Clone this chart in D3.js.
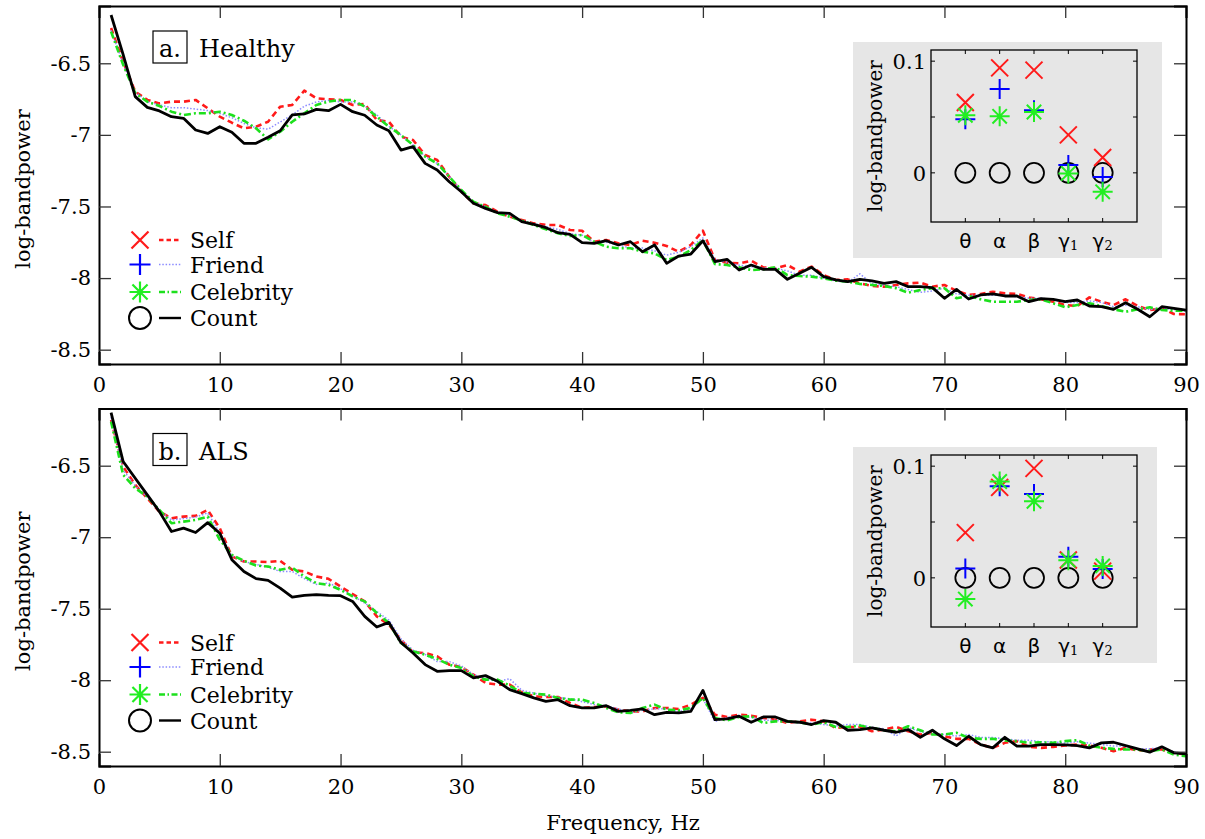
<!DOCTYPE html>
<html>
<head>
<meta charset="utf-8">
<script src="https://cdn.jsdelivr.net/npm/d3@7"></script>
<style>
  html, body { margin: 0; padding: 0; background: #fff; }
  svg { display: block; }
  text { fill: #000; }
</style>
</head>
<body>
<svg id="chart" width="1205" height="839"></svg>
<script>
// ---- spectra: log-bandpower per 1 Hz bin, 1..90 Hz ----
const freq = d3.range(1, 91);

const healthySelf = [
  -6.254,-6.49,-6.698,-6.756,-6.78,-6.768,-6.768,-6.756,-6.814,-6.873,
  -6.915,-6.954,-6.943,-6.908,-6.803,-6.791,-6.691,-6.745,-6.752,-6.756,
  -6.791,-6.784,-6.896,-6.908,-7.013,-7.036,-7.141,-7.175,-7.292,-7.397,
  -7.478,-7.49,-7.537,-7.571,-7.594,-7.618,-7.629,-7.629,-7.664,-7.669,
  -7.746,-7.734,-7.757,-7.769,-7.739,-7.753,-7.776,-7.816,-7.769,-7.669,
  -7.874,-7.892,-7.897,-7.879,-7.925,-7.932,-7.909,-7.955,-7.92,-7.979,
  -8.013,-8.009,-8.037,-8.055,-8.06,-8.048,-8.037,-8.032,-8.06,-8.048,
  -8.088,-8.118,-8.111,-8.095,-8.107,-8.111,-8.135,-8.148,-8.165,-8.188,
  -8.195,-8.135,-8.165,-8.188,-8.148,-8.195,-8.223,-8.211,-8.251,-8.253];
const healthyFriend = [
  -6.27,-6.5,-6.70,-6.77,-6.79,-6.81,-6.81,-6.82,-6.83,-6.85,
  -6.88,-6.92,-6.95,-6.96,-6.91,-6.86,-6.80,-6.77,-6.76,-6.77,
  -6.77,-6.80,-6.86,-6.94,-7.0,-7.07,-7.15,-7.2,-7.29,-7.39,
  -7.47,-7.5,-7.54,-7.56,-7.6,-7.62,-7.64,-7.66,-7.69,-7.7,
  -7.75,-7.75,-7.77,-7.79,-7.79,-7.81,-7.84,-7.82,-7.78,-7.72,
  -7.87,-7.89,-7.91,-7.92,-7.93,-7.93,-7.95,-7.98,-7.98,-8.0,
  -8.02,-8.03,-7.97,-8.04,-8.05,-8.06,-8.08,-8.1,-8.09,-8.07,
  -8.11,-8.12,-8.12,-8.12,-8.12,-8.13,-8.14,-8.14,-8.15,-8.17,
  -8.17,-8.16,-8.17,-8.2,-8.19,-8.2,-8.22,-8.21,-8.22,-8.23];
const healthyCelebrity = [
  -6.279,-6.51,-6.708,-6.768,-6.798,-6.838,-6.861,-6.849,-6.849,-6.838,
  -6.861,-6.901,-6.954,-7.031,-6.978,-6.908,-6.849,-6.791,-6.768,-6.756,
  -6.756,-6.803,-6.873,-6.943,-7.001,-7.071,-7.152,-7.199,-7.292,-7.385,
  -7.467,-7.502,-7.548,-7.571,-7.599,-7.629,-7.659,-7.687,-7.706,-7.699,
  -7.746,-7.781,-7.792,-7.792,-7.816,-7.827,-7.874,-7.851,-7.804,-7.734,
  -7.902,-7.909,-7.925,-7.944,-7.939,-7.925,-7.979,-7.986,-7.99,-8.002,
  -8.018,-8.025,-8.041,-8.048,-8.055,-8.071,-8.102,-8.083,-8.071,-8.071,
  -8.141,-8.125,-8.148,-8.165,-8.165,-8.165,-8.153,-8.148,-8.176,-8.204,
  -8.188,-8.176,-8.195,-8.218,-8.235,-8.218,-8.204,-8.223,-8.228,-8.228];
const healthyCount = [
  -6.163,-6.44,-6.733,-6.808,-6.833,-6.873,-6.884,-6.966,-6.99,-6.943,
  -6.982,-7.059,-7.059,-7.017,-6.971,-6.861,-6.854,-6.822,-6.831,-6.787,
  -6.838,-6.863,-6.931,-6.971,-7.106,-7.082,-7.199,-7.245,-7.327,-7.397,
  -7.478,-7.513,-7.543,-7.548,-7.606,-7.625,-7.648,-7.683,-7.695,-7.753,
  -7.757,-7.739,-7.769,-7.746,-7.816,-7.769,-7.897,-7.846,-7.832,-7.739,
  -7.885,-7.869,-7.944,-7.909,-7.939,-7.939,-8.009,-7.967,-7.925,-7.99,
  -8.013,-8.025,-8.009,-8.02,-8.037,-8.025,-8.06,-8.06,-8.067,-8.141,
  -8.079,-8.146,-8.118,-8.111,-8.125,-8.125,-8.165,-8.144,-8.148,-8.165,
  -8.153,-8.195,-8.2,-8.218,-8.172,-8.218,-8.27,-8.2,-8.211,-8.223];

const alsSelf = [
  -6.18,-6.506,-6.634,-6.728,-6.821,-6.867,-6.856,-6.851,-6.809,-6.937,
  -7.135,-7.17,-7.17,-7.174,-7.165,-7.228,-7.24,-7.275,-7.291,-7.345,
  -7.398,-7.449,-7.554,-7.612,-7.717,-7.805,-7.81,-7.833,-7.891,-7.907,
  -7.961,-8.019,-8.031,-8.031,-8.085,-8.113,-8.117,-8.117,-8.159,-8.194,
  -8.187,-8.183,-8.206,-8.218,-8.218,-8.194,-8.194,-8.201,-8.171,-8.124,
  -8.241,-8.257,-8.241,-8.248,-8.264,-8.276,-8.299,-8.288,-8.276,-8.288,
  -8.334,-8.327,-8.327,-8.357,-8.345,-8.327,-8.357,-8.38,-8.368,-8.392,
  -8.41,-8.41,-8.45,-8.473,-8.438,-8.426,-8.466,-8.473,-8.466,-8.457,
  -8.45,-8.457,-8.473,-8.496,-8.473,-8.492,-8.485,-8.485,-8.508,-8.52];
const alsFriend = [
  -6.16,-6.53,-6.64,-6.72,-6.81,-6.88,-6.87,-6.86,-6.83,-6.97,
  -7.13,-7.17,-7.19,-7.21,-7.24,-7.24,-7.29,-7.33,-7.32,-7.36,
  -7.41,-7.46,-7.52,-7.58,-7.71,-7.79,-7.82,-7.87,-7.87,-7.9,
  -7.96,-7.99,-8.01,-7.99,-8.07,-8.09,-8.11,-8.12,-8.13,-8.15,
  -8.17,-8.18,-8.2,-8.23,-8.21,-8.2,-8.2,-8.22,-8.2,-8.13,
  -8.29,-8.26,-8.25,-8.26,-8.28,-8.28,-8.29,-8.3,-8.3,-8.31,
  -8.32,-8.31,-8.31,-8.33,-8.34,-8.39,-8.33,-8.36,-8.37,-8.38,
  -8.39,-8.38,-8.4,-8.4,-8.41,-8.42,-8.42,-8.43,-8.43,-8.44,
  -8.43,-8.44,-8.45,-8.46,-8.46,-8.48,-8.48,-8.47,-8.5,-8.52];
const alsCelebrity = [
  -6.192,-6.564,-6.657,-6.716,-6.809,-6.902,-6.891,-6.879,-6.856,-7.018,
  -7.123,-7.165,-7.198,-7.205,-7.228,-7.212,-7.275,-7.321,-7.333,-7.368,
  -7.414,-7.449,-7.53,-7.6,-7.74,-7.798,-7.822,-7.852,-7.891,-7.914,
  -7.973,-7.996,-7.996,-8.038,-8.089,-8.094,-8.101,-8.124,-8.136,-8.136,
  -8.159,-8.194,-8.225,-8.229,-8.194,-8.171,-8.206,-8.211,-8.194,-8.124,
  -8.264,-8.281,-8.257,-8.252,-8.299,-8.288,-8.288,-8.294,-8.31,-8.294,
  -8.327,-8.327,-8.317,-8.334,-8.35,-8.357,-8.322,-8.35,-8.38,-8.38,
  -8.368,-8.403,-8.41,-8.41,-8.422,-8.426,-8.438,-8.434,-8.438,-8.426,
  -8.419,-8.457,-8.473,-8.48,-8.485,-8.485,-8.496,-8.485,-8.52,-8.532];
const alsCount = [
  -6.129,-6.471,-6.588,-6.704,-6.821,-6.96,-6.937,-6.967,-6.898,-6.972,
  -7.158,-7.24,-7.29,-7.302,-7.356,-7.419,-7.407,-7.402,-7.407,-7.409,
  -7.449,-7.554,-7.628,-7.596,-7.736,-7.81,-7.891,-7.938,-7.933,-7.933,
  -7.984,-7.968,-8.008,-8.066,-8.094,-8.124,-8.148,-8.136,-8.178,-8.194,
  -8.194,-8.178,-8.218,-8.211,-8.201,-8.241,-8.225,-8.229,-8.218,-8.071,
  -8.276,-8.271,-8.252,-8.294,-8.257,-8.257,-8.288,-8.294,-8.31,-8.283,
  -8.294,-8.35,-8.345,-8.334,-8.35,-8.364,-8.345,-8.399,-8.35,-8.41,
  -8.457,-8.392,-8.45,-8.473,-8.399,-8.461,-8.461,-8.45,-8.45,-8.452,
  -8.457,-8.473,-8.438,-8.434,-8.457,-8.48,-8.503,-8.466,-8.508,-8.515];

// ---- band summaries (difference to Count) ----
const bands = ["θ", "α", "β", "γ1", "γ2"];
const healthyBandSelf      = [0.063, 0.094, 0.092, 0.034, 0.0137];
const healthyBandFriend    = [0.048, 0.075, 0.056, 0.007, -0.0036];
const healthyBandCelebrity = [0.0515, 0.0506, 0.0545, -0.0005, -0.017];
const healthyBandCount     = [0, 0, 0, 0, 0];
const alsBandSelf          = [0.0405, 0.081, 0.098, 0.016, 0.006];
const alsBandFriend        = [0.0084, 0.082, 0.075, 0.019, 0.008];
const alsBandCelebrity     = [-0.019, 0.0863, 0.0685, 0.0158, 0.0107];
const alsBandCount         = [0, 0, 0, 0, 0];

// ---- axis ticks ----
const xTicks = [0, 10, 20, 30, 40, 50, 60, 70, 80, 90];
const yTicks = [-8.5, -8, -7.5, -7, -6.5];
const insetYTicks = [0, 0.05, 0.1];
const insetYLabels = [0, 0.1];

const conditions = ["Self", "Friend", "Celebrity", "Count"];

// ---- styles ----
const SERIF = "'DejaVu Serif', serif";
const SANS = "'DejaVu Sans', sans-serif";
const lineStyle = {
  Self:      { stroke: "#ff1a1a", width: 2.6, dash: "6,4" },
  Friend:    { stroke: "#8c8cff", width: 1.5, dash: "1.5,1.8" },
  Celebrity: { stroke: "#1de01d", width: 2.6, dash: "7,3,2,3" },
  Count:     { stroke: "#000000", width: 2.8, dash: null }
};
const markerColor = { Self: "#ff1a1a", Friend: "#0000ff", Celebrity: "#22ee22", Count: "#000" };

const panels = [
  { tag: "a.", title: "Healthy", top: 6, bottom: 364, xLabels: true,
    series: { Self: healthySelf, Friend: healthyFriend, Celebrity: healthyCelebrity, Count: healthyCount },
    band: { Self: healthyBandSelf, Friend: healthyBandFriend, Celebrity: healthyBandCelebrity, Count: healthyBandCount },
    inset: { bgX0: 853, bgX1: 1162, bgY0: 42, bgY1: 258, x0: 931, x1: 1137, y0: 50, y1: 222 } },
  { tag: "b.", title: "ALS", top: 408.5, bottom: 766, xLabels: true,
    series: { Self: alsSelf, Friend: alsFriend, Celebrity: alsCelebrity, Count: alsCount },
    band: { Self: alsBandSelf, Friend: alsBandFriend, Celebrity: alsBandCelebrity, Count: alsBandCount },
    inset: { bgX0: 853, bgX1: 1157, bgY0: 447, bgY1: 663, x0: 931, x1: 1137, y0: 455, y1: 627 } }
];

const LEFT = 99, RIGHT = 1186;
const svg = d3.select("#chart");

// marker glyphs, centred on the origin
function markerPath(kind, s) {
  if (kind === "Self") return `M${-s},${-s}L${s},${s}M${-s},${s}L${s},${-s}`;
  if (kind === "Friend") return `M${-s},0H${s}M0,${-s}V${s}`;
  if (kind === "Celebrity") {
    const d = s * 0.72;
    return `M${-s},0H${s}M0,${-s}V${s}M${-d},${-d}L${d},${d}M${-d},${d}L${d},${-d}`;
  }
  return null;
}
function drawMarker(g, kind, x, y, s, sw) {
  if (kind === "Count") {
    g.append("circle").attr("cx", x).attr("cy", y).attr("r", s)
      .attr("fill", "none").attr("stroke", "#000").attr("stroke-width", sw);
  } else {
    g.append("path").attr("d", markerPath(kind, s))
      .attr("transform", `translate(${x},${y})`)
      .attr("fill", "none").attr("stroke", markerColor[kind]).attr("stroke-width", sw);
  }
}

const x = d3.scaleLinear().domain([0, 90]).range([LEFT, RIGHT]);

panels.forEach(p => {
  const y = d3.scaleLinear().domain([-8.6, -6.1]).range([p.bottom, p.top]);
  const g = svg.append("g");

  // spectra
  const line = d3.line().x((d, i) => x(freq[i])).y(d => y(d));
  conditions.forEach(c => {
    const st = lineStyle[c];
    g.append("path").datum(p.series[c])
      .attr("d", line)
      .attr("fill", "none")
      .attr("stroke", st.stroke)
      .attr("stroke-width", st.width)
      .attr("stroke-linejoin", "round")
      .attr("stroke-dasharray", st.dash);
  });

  // axes with inward ticks
  const fmt = d => String(d);
  const axB = g.append("g").attr("transform", `translate(0,${p.bottom})`)
    .call(d3.axisBottom(x).tickValues(xTicks).tickSize(-12).tickPadding(13).tickFormat(p.xLabels ? fmt : () => ""));
  const axT = g.append("g").attr("transform", `translate(0,${p.top})`)
    .call(d3.axisTop(x).tickValues(xTicks).tickSize(-12).tickFormat(() => ""));
  const axL = g.append("g").attr("transform", `translate(${LEFT},0)`)
    .call(d3.axisLeft(y).tickValues(yTicks).tickSize(-12).tickPadding(8).tickFormat(fmt));
  const axR = g.append("g").attr("transform", `translate(${RIGHT},0)`)
    .call(d3.axisRight(y).tickValues(yTicks).tickSize(-12).tickFormat(() => ""));
  [axB, axT, axL, axR].forEach(a => {
    a.select(".domain").attr("stroke", "#000").attr("stroke-width", 2);
    a.selectAll(".tick line").attr("stroke", "#333").attr("stroke-width", 1.3);
    a.selectAll(".tick text").attr("font-family", SERIF).attr("font-size", 21).attr("fill", "#000");
  });
  // hide the first/last ticks sitting on the frame
  axL.selectAll(".tick").filter(d => false).remove();

  // y label
  g.append("text")
    .attr("transform", `translate(30,${(p.top + p.bottom) / 2 + 4}) rotate(-90)`)
    .attr("text-anchor", "middle")
    .attr("font-family", SERIF).attr("font-size", 21)
    .text("log-bandpower");

  // panel tag and title
  const bx = 153, by = p.top + 25;
  g.append("rect").attr("x", bx).attr("y", by).attr("width", 34).attr("height", 32)
    .attr("fill", "none").attr("stroke", "#000").attr("stroke-width", 1.2);
  g.append("text").attr("x", bx + 17).attr("y", by + 26).attr("text-anchor", "middle")
    .attr("font-family", SERIF).attr("font-size", 24).text(p.tag);
  g.append("text").attr("x", 199).attr("y", by + 26)
    .attr("font-family", SERIF).attr("font-size", 24).text(p.title);

  // legend
  const legY0 = p.top + 234, legDy = [0, 24.5, 52, 78];
  conditions.forEach((c, i) => {
    const ly = legY0 + legDy[i];
    const sz = c === "Count" ? 11 : (c === "Self" ? 8.5 : 10.5);
    drawMarker(g, c, 140, ly, sz, c === "Count" ? 2 : 2.2);
    const st = lineStyle[c];
    g.append("line").attr("x1", 159).attr("x2", 181).attr("y1", ly).attr("y2", ly)
      .attr("stroke", st.stroke).attr("stroke-width", c === "Friend" ? 1.5 : 2.4)
      .attr("stroke-dasharray", c === "Self" ? "4.5,3" : (c === "Celebrity" ? "6,2.5,1.5,2.5" : st.dash));
    g.append("text").attr("x", 190).attr("y", ly + 8)
      .attr("font-family", SERIF).attr("font-size", 22).text(c);
  });

  // ---- inset: band power relative to Count ----
  const q = p.inset;
  const ig = svg.append("g");
  ig.append("rect").attr("x", q.bgX0).attr("y", q.bgY0)
    .attr("width", q.bgX1 - q.bgX0).attr("height", q.bgY1 - q.bgY0).attr("fill", "#e6e6e6");
  const ix = d3.scaleLinear().domain([0, 6]).range([q.x0, q.x1]);
  const iy = d3.scaleLinear().domain([-0.044, 0.11]).range([q.y1, q.y0]);

  // ticks: short, inward on all sides
  insetYTicks.forEach(t => {
    ig.append("line").attr("x1", q.x0).attr("x2", q.x0 + 4).attr("y1", iy(t)).attr("y2", iy(t)).attr("stroke", "#000");
    ig.append("line").attr("x1", q.x1).attr("x2", q.x1 - 4).attr("y1", iy(t)).attr("y2", iy(t)).attr("stroke", "#000");
  });
  bands.forEach((b, i) => {
    ig.append("line").attr("x1", ix(i + 1)).attr("x2", ix(i + 1)).attr("y1", q.y1).attr("y2", q.y1 - 4).attr("stroke", "#000");
    ig.append("line").attr("x1", ix(i + 1)).attr("x2", ix(i + 1)).attr("y1", q.y0).attr("y2", q.y0 + 4).attr("stroke", "#000");
  });
  ig.append("rect").attr("x", q.x0).attr("y", q.y0)
    .attr("width", q.x1 - q.x0).attr("height", q.y1 - q.y0)
    .attr("fill", "none").attr("stroke", "#000").attr("stroke-width", 1.3);

  insetYLabels.forEach(t => {
    ig.append("text").attr("x", q.x0 - 5).attr("y", iy(t) + 8).attr("text-anchor", "end")
      .attr("font-family", SERIF).attr("font-size", 21).text(String(t));
  });
  ig.append("text")
    .attr("transform", `translate(882,${(q.y0 + q.y1) / 2 - 0}) rotate(-90)`)
    .attr("text-anchor", "middle")
    .attr("font-family", SERIF).attr("font-size", 20)
    .text("log-bandpower");

  bands.forEach((b, i) => {
    const t = ig.append("text").attr("x", ix(i + 1)).attr("y", q.y1 + 26)
      .attr("text-anchor", "middle").attr("font-family", SANS).attr("font-size", 20);
    if (b.startsWith("γ")) {
      t.append("tspan").text("γ");
      t.append("tspan").attr("font-family", SERIF).attr("font-size", 13).attr("dy", 2).text(b.slice(1));
    } else {
      t.text(b);
    }
  });

  ["Count", "Self", "Friend", "Celebrity"].forEach(c => {
    p.band[c].forEach((v, i) => {
      drawMarker(ig, c, ix(i + 1), iy(v), c === "Count" ? 10 : (c === "Self" ? 8.5 : 10), c === "Count" ? 1.8 : 2);
    });
  });
});

// x axis title
svg.append("text").attr("x", 623).attr("y", 830).attr("text-anchor", "middle")
  .attr("font-family", SERIF).attr("font-size", 21).text("Frequency, Hz");
</script>
</body>
</html>
